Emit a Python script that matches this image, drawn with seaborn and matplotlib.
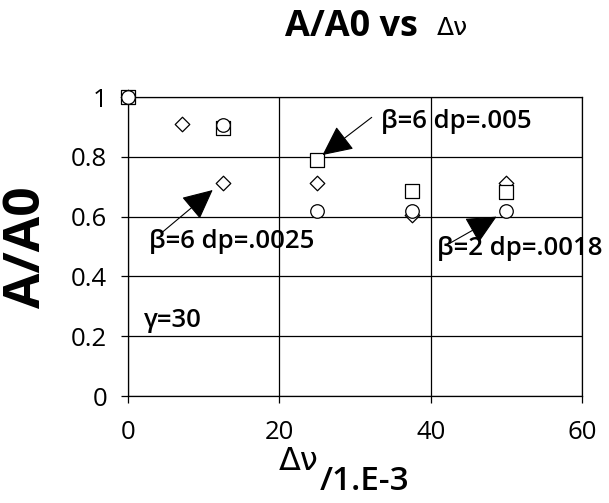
import seaborn as sns
import numpy as np
import pandas as pd
import matplotlib.pyplot as plt

# values
dv = [0, 12.5, 25, 37.5, 50]
dv_dia = [0, 7.1, 12.5, 25, 37.5, 50]
sq_vals = [1.0, 0.897, 0.789, 0.686, 0.681]     # beta=6 dp=.005
circ_vals = [1.0, 0.905, 0.620, 0.619, 0.619]   # beta=2 dp=.0018
dia_vals = [1.0, 0.910, 0.711, 0.711, 0.605, 0.713]  # beta=6 dp=.0025

sns.set_style("white")
plt.rcParams['font.family'] = ['Open Sans', 'DejaVu Sans']
plt.rcParams['text.color'] = 'black'

fig = plt.figure(figsize=(6.09, 5.03), dpi=100)
ax = fig.add_axes([0.210, 0.2127, 0.746, 0.5944])

df_sq = pd.DataFrame({"dv": dv, "r": sq_vals})
df_ci = pd.DataFrame({"dv": dv, "r": circ_vals})
df_di = pd.DataFrame({"dv": dv_dia, "r": dia_vals})

kw = dict(facecolor="white", edgecolor="black", linewidth=0.9, legend=False, ax=ax, zorder=3, clip_on=False)
sns.scatterplot(data=df_di, x="dv", y="r", marker="D", s=55, **kw)
sns.scatterplot(data=df_sq, x="dv", y="r", marker="s", s=95, **kw)
sns.scatterplot(data=df_ci, x="dv", y="r", marker="o", s=95, **kw)

ax.set_xlim(0, 60)
ax.set_ylim(0, 1)
ax.set_xticks([0, 20, 40, 60])
ax.set_yticks([0, 0.2, 0.4, 0.6, 0.8, 1])
ax.set_yticklabels(["0", "0.2", "0.4", "0.6", "0.8", "1"])
ax.grid(True, color="black", linewidth=0.9)
ax.set_axisbelow(True)
for s in ax.spines.values():
    s.set_color("black")
    s.set_linewidth(0.9)
ax.tick_params(axis="both", which="both", direction="out", length=5, width=0.9,
               colors="black", labelsize=18.5, left=True, bottom=True)
ax.tick_params(axis="y", pad=10)
ax.tick_params(axis="x", pad=12)
ax.set_xlabel("")
ax.set_ylabel("")

arrow = dict(arrowstyle="-|>,head_length=1.35,head_width=0.65", mutation_scale=14,
             color="black", lw=0.8, shrinkA=0, shrinkB=0)
ax.annotate("", xy=(25.7, 0.806), xytext=(32.2, 0.932), arrowprops=arrow)
ax.annotate("", xy=(11.2, 0.689), xytext=(4.6, 0.549), arrowprops=arrow)
ax.annotate("", xy=(48.7, 0.600), xytext=(42.1, 0.505), arrowprops=arrow)

tk = dict(fontsize=18.5, fontweight="semibold", va="center", ha="left")
ax.text(33.4, 0.917, "β=6 dp=.005", **tk)
ax.text(2.8, 0.516, "β=6 dp=.0025", **tk)
ax.text(40.8, 0.495, "β=2 dp=.0018", **tk)
ax.text(2.1, 0.254, "γ=30", **tk)

# title and axis labels
fig.text(0.686, 0.946, "A/A0 vs", fontsize=26, fontweight="bold", ha="right", va="center")
fig.text(0.717, 0.944, "Δν", fontsize=18, family="DejaVu Sans", ha="left", va="center")
fig.text(0.045, 0.509, "A/A0", fontsize=37, fontweight="bold", rotation=90, ha="center", va="center")
fig.text(0.458, 0.082, "Δν", fontsize=23, family="DejaVu Sans", ha="left", va="center")
fig.text(0.525, 0.042, "/1.E-3", fontsize=24, fontweight="semibold", ha="left", va="center")

plt.savefig("out.png", dpi=100)
